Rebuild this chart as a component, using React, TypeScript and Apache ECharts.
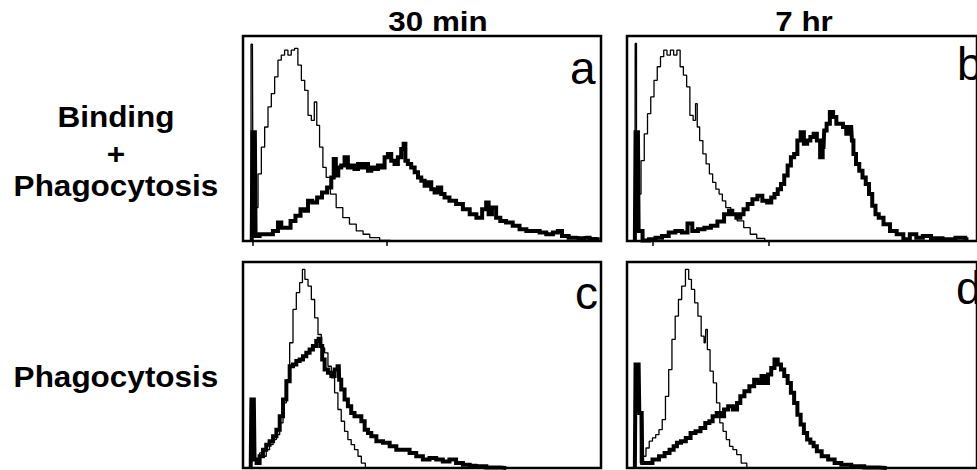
import React, { useEffect, useRef } from "react";
import * as echarts from "echarts";

// Column titles, row labels and panel letters
const columnTitles = ["30 min", "7 hr"];
const rowLabels = ["Binding", "+", "Phagocytosis", "Phagocytosis"];
const panelLetters = ["a", "b", "c", "d"];

// Small marks under the frame of the top panels (channel)
const bottomTicks = [[28, 412], [74, 415], [], []];

// Fluorescence channel (0-1024) vs relative count (0-100)
// Panel a: 30 min, binding + phagocytosis
const controlA: [number, number][] = [
  [19, 0], [27, 96], [30.5, 4.9], [38, 16.3], [48, 32.7], [57, 45.8], [67, 55.6], [76, 65.4],
  [86, 71.9], [95, 80.1], [105, 88.2], [114, 90.7], [124, 93.1], [133, 90.7], [143, 93.1],
  [152, 94.0], [162, 85.8], [172, 78.4], [181, 73.5], [191, 61.3], [200, 58.8], [208, 67.8],
  [214, 56.4], [224, 45.8], [233, 35.9], [243, 31.0], [257, 22.9], [276, 16.3], [295, 11.4],
  [314, 8.2], [334, 4.9], [353, 3.3], [372, 1.6], [410, 0.3], [429, 0],
];
const treatedA: [number, number][] = [
  [25, 0], [29, 53], [34, 53], [38, 2.5], [57, 3.3], [76, 3.3], [95, 4.9], [105, 9.0], [114, 6.5],
  [129, 6.5], [143, 9.8], [157, 12.3], [172, 15.5], [181, 14.7], [191, 19.6], [205, 18.8],
  [219, 21.2], [233, 23.7], [248, 26.1], [257, 31.0], [262, 40.0], [269, 31.9], [276, 35.9],
  [286, 36.8], [295, 40.8], [305, 35.9], [314, 36.8], [324, 35.1], [334, 37.6], [343, 35.9],
  [353, 37.6], [362, 34.3], [372, 35.9], [381, 35.1], [391, 36.8], [400, 35.9], [410, 40.8],
  [419, 42.5], [429, 39.2], [438, 37.6], [448, 40.8], [457, 44.9], [462, 47.4], [467, 39.2],
  [476, 37.6], [486, 35.9], [496, 33.5], [505, 31.0], [515, 29.4], [524, 27.0], [534, 28.6],
  [543, 25.3], [553, 23.7], [562, 26.1], [572, 22.9], [581, 21.2], [600, 19.6], [619, 18.0],
  [639, 15.5], [658, 13.1], [677, 11.4], [691, 15.5], [700, 18.8], [705, 13.1], [719, 16.3],
  [729, 11.4], [743, 9.8], [762, 9.0], [781, 7.4], [801, 5.7], [820, 4.9], [839, 4.9],
  [858, 4.1], [877, 3.3], [896, 4.1], [905, 4.9], [920, 2.5], [943, 1.6], [963, 1.3],
  [982, 1.6], [1001, 1.0], [1020, 0.7],
];

// Panel b: 7 hr, binding + phagocytosis
const controlB: [number, number][] = [
  [23, 0], [25, 96.4], [30.5, 13.1], [36, 22.9], [46, 39.2], [55, 52.3], [65, 62.1], [74, 70.3],
  [84, 78.4], [93, 85.0], [103, 89.9], [112, 93.1], [122, 90.7], [132, 93.1], [141, 90.7],
  [151, 93.1], [160, 85.0], [170, 80.9], [179, 75.2], [189, 61.3], [198, 58.8], [203, 67.0],
  [208, 55.6], [217, 49.0], [227, 42.5], [236, 37.6], [246, 32.7], [255, 28.6], [265, 25.3],
  [274, 22.9], [284, 19.6], [294, 16.3], [313, 13.1], [332, 9.8], [351, 6.5], [370, 3.3],
  [389, 1.3], [417, 0],
];
const treatedB: [number, number][] = [
  [23, 0], [27, 53.1], [32, 53.1], [36, 4.9], [55, 0.3], [74, 0.8], [93, 1.6], [112, 2.5],
  [132, 4.1], [151, 4.9], [170, 4.1], [184, 8.5], [198, 4.9], [217, 5.7], [236, 6.5], [255, 7.4],
  [274, 9.5], [294, 13.1], [303, 14.7], [313, 13.1], [327, 11.4], [336, 13.1], [346, 15.5],
  [360, 18.0], [374, 20.4], [389, 22.1], [403, 19.6], [417, 18.8], [427, 21.2], [436, 22.9],
  [446, 25.3], [455, 27.8], [465, 31.9], [475, 36.8], [484, 40.8], [494, 42.5], [503, 49.0],
  [513, 53.1], [522, 47.4], [532, 49.0], [541, 50.7], [551, 52.3], [560, 49.0], [570, 40.8],
  [575, 45.8], [579, 53.9], [589, 57.2], [598, 62.9], [608, 60.5], [617, 57.2], [627, 57.2],
  [637, 55.6], [646, 52.3], [656, 55.6], [660, 49.0], [665, 42.5], [675, 37.6], [684, 34.3],
  [694, 31.0], [703, 27.8], [713, 22.9], [722, 17.2], [732, 13.1], [741, 11.4], [760, 8.2],
  [779, 4.9], [799, 3.3], [818, 0.8], [837, 3.3], [856, 1.6], [875, 2.5], [904, 1.3],
  [942, 0.8], [980, 1.6], [999, 0.8],
];

// Panel c: 30 min, phagocytosis
const controlC: [number, number][] = [
  [22, 0], [25, 32.4], [31, 4.1], [43, 2.4], [52, 7.3], [62, 5.7], [71, 8.9], [81, 11.3],
  [91, 13.8], [100, 16.2], [110, 21.9], [119, 31.6], [129, 42.9], [138, 60.8], [148, 77.0],
  [157, 85.1], [167, 90.0], [173, 96.4], [181, 91.6], [191, 88.3], [200, 81.8], [210, 72.9],
  [219, 64.8], [229, 58.3], [238, 55.9], [248, 49.4], [257, 43.8], [267, 36.5], [276, 28.4],
  [286, 22.7], [295, 17.8], [305, 13.8], [314, 11.3], [324, 8.9], [334, 5.7], [343, 2.4],
  [357, 0],
];
const treatedC: [number, number][] = [
  [22, 0], [26, 33.2], [31, 33.2], [35, 4.1], [43, 2.4], [52, 5.7], [62, 8.9], [71, 11.3],
  [81, 13.0], [91, 15.4], [100, 18.6], [110, 25.1], [119, 33.2], [129, 42.1], [138, 49.4],
  [148, 50.2], [157, 51.9], [167, 52.7], [176, 54.3], [186, 55.9], [195, 57.5], [205, 59.2],
  [214, 61.6], [219, 62.7], [224, 59.2], [229, 52.7], [238, 47.8], [248, 46.2], [257, 44.6],
  [267, 47.8], [274, 49.4], [276, 42.9], [286, 38.1], [295, 33.2], [305, 30.0], [314, 26.7],
  [324, 25.1], [334, 25.1], [343, 22.7], [353, 18.6], [362, 17.0], [372, 15.4], [391, 13.0],
  [410, 12.2], [429, 10.5], [448, 8.9], [467, 8.9], [486, 7.3], [505, 5.7], [524, 4.1],
  [543, 4.9], [562, 4.1], [581, 3.2], [600, 4.1], [619, 2.4], [639, 1.6], [658, 1.1],
  [677, 0.8], [715, 0.3], [753, 0],
];

// Panel d: 7 hr, phagocytosis
const controlD: [number, number][] = [
  [23, 0], [27, 49.4], [32, 49.4], [36, 26.7], [42, 2.4], [51, 5.7], [60, 9.7], [70, 13.0],
  [79, 14.6], [89, 16.2], [98, 18.6], [108, 23.5], [117, 34.8], [127, 47.8], [136, 62.4],
  [146, 73.7], [155, 81.8], [165, 88.3], [177, 96.4], [184, 91.6], [193, 86.7], [203, 80.2],
  [212, 73.7], [222, 64.0], [229, 60.8], [232, 67.3], [238, 57.5], [248, 47.0], [257, 41.3],
  [267, 31.6], [276, 21.9], [286, 17.8], [295, 13.8], [305, 10.5], [315, 8.9], [327, 6.5],
  [341, 2.4], [360, 0],
];
const treatedD: [number, number][] = [
  [23, 0], [27, 50.2], [34, 50.2], [38, 26.7], [43, 26.7], [46, 2.4], [65, 2.4], [84, 4.1],
  [103, 5.7], [117, 7.3], [132, 8.9], [141, 10.5], [151, 12.2], [165, 13.0], [179, 14.6],
  [193, 17.0], [208, 17.8], [222, 19.4], [236, 21.9], [246, 22.7], [255, 25.1], [270, 26.7],
  [279, 25.1], [289, 28.4], [303, 30.0], [317, 28.4], [327, 31.6], [336, 34.8], [351, 37.3],
  [365, 39.7], [379, 42.9], [389, 41.3], [398, 44.6], [408, 41.3], [417, 45.4], [427, 48.6],
  [436, 52.7], [446, 50.2], [455, 47.8], [465, 44.6], [475, 41.3], [484, 36.5], [494, 31.6],
  [503, 25.9], [513, 21.1], [522, 17.0], [532, 13.8], [541, 12.2], [551, 10.5], [560, 8.1],
  [579, 5.7], [598, 4.1], [617, 2.4], [637, 1.6], [675, 0.8], [713, 0.3], [760, 0],
];

const controls = [controlA, controlB, controlC, controlD];
const treated = [treatedA, treatedB, treatedC, treatedD];

const FONT = "'Liberation Sans', Arial, Helvetica, sans-serif";

export default function App() {
  const ref = useRef<HTMLDivElement>(null);

  useEffect(() => {
    if (!ref.current) return;
    const chart = echarts.init(ref.current, undefined, { renderer: "svg" });

    const gridRects = [
      { left: 243, top: 36, width: 358, height: 205 },
      { left: 627, top: 36, width: 358, height: 205 },
      { left: 243, top: 262, width: 358, height: 206 },
      { left: 627, top: 262, width: 358, height: 206 },
    ];

    const grids = gridRects.map((r) => ({
      ...r,
      show: true,
      borderColor: "#000",
      borderWidth: 2.5,
      backgroundColor: "transparent",
      containLabel: false,
    }));

    const xAxes = gridRects.map((_, i) => ({
      type: "value" as const,
      gridIndex: i,
      min: 0,
      max: 1024,
      show: bottomTicks[i].length > 0,
      axisLine: { show: false },
      axisLabel: { show: false },
      splitLine: { show: false },
      axisTick: {
        show: bottomTicks[i].length > 0,
        customValues: bottomTicks[i],
        length: 5,
        inside: false,
        lineStyle: { color: "#000", width: 1.5 },
      },
    }));
    const yAxes = gridRects.map((_, i) => ({
      type: "value" as const,
      gridIndex: i,
      min: 0,
      max: 100,
      show: false,
    }));

    const series: any[] = [];
    for (let i = 0; i < 4; i++) {
      series.push({
        type: "line",
        xAxisIndex: i,
        yAxisIndex: i,
        data: controls[i],
        step: "middle",
        symbol: "none",
        silent: true,
        lineStyle: { color: "#000", width: 1.3 },
        z: 2,
      });
      series.push({
        type: "line",
        xAxisIndex: i,
        yAxisIndex: i,
        data: treated[i],
        step: "middle",
        symbol: "none",
        silent: true,
        lineStyle: { color: "#000", width: 4, join: "miter" },
        z: 3,
      });
    }

    // y is the top of the text box; baseline sits about 0.89 * size below it
    const boldText = (text: string, x: number, baseline: number, size: number, sx = 1) => ({
      type: "text",
      x,
      y: baseline - 0.89 * size,
      scaleX: sx,
      style: {
        text,
        fill: "#000",
        font: `bold ${size}px ${FONT}`,
        textAlign: "center",
        textVerticalAlign: "top",
      },
    });
    const letterText = (text: string, x: number, baseline: number) => ({
      type: "text",
      x,
      y: baseline - 0.87 * 46,
      style: {
        text,
        fill: "#000",
        font: `46px ${FONT}`,
        textAlign: "left",
        textVerticalAlign: "top",
      },
    });

    const graphic = [
      boldText(columnTitles[0], 438, 32, 28, 1.12),
      boldText(columnTitles[1], 804, 32, 28, 1.12),
      boldText(rowLabels[0], 116, 128, 30, 1.05),
      boldText(rowLabels[1], 116, 165, 30, 1.05),
      boldText(rowLabels[2], 116, 197, 30, 1.05),
      boldText(rowLabels[3], 116, 388, 30, 1.05),
      letterText(panelLetters[0], 570, 85),
      letterText(panelLetters[1], 957, 81),
      letterText(panelLetters[2], 575, 310),
      letterText(panelLetters[3], 956, 305),
    ];

    chart.setOption({
      animation: false,
      backgroundColor: "#fff",
      grid: grids,
      xAxis: xAxes,
      yAxis: yAxes,
      series,
      graphic,
    });

    return () => chart.dispose();
  }, []);

  return (
    <div
      ref={ref}
      style={{ position: "fixed", left: 0, top: 0, width: 977, height: 470 }}
    />
  );
}
